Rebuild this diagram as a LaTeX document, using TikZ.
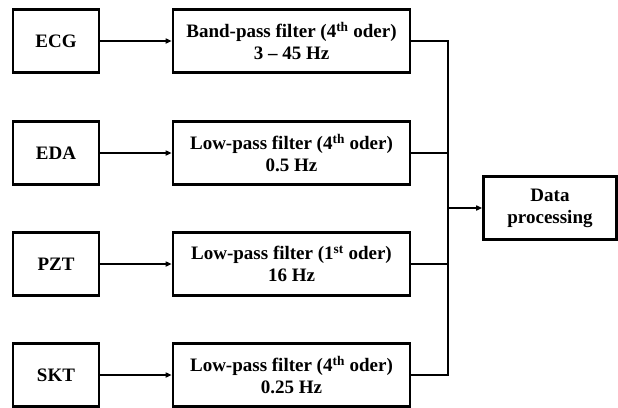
\documentclass[tikz,border=0pt]{standalone}
\usepackage{fontspec}
\setmainfont{Liberation Serif}
\usetikzlibrary{arrows.meta}
\begin{document}
\begin{tikzpicture}[x=1pt,y=-1pt,
  blk/.style={draw, line width=2.6pt, inner sep=0pt, font=\bfseries\fontsize{19}{22}\selectfont, align=center},
  src/.style={blk, minimum width=86pt, minimum height=63pt},
  flt/.style={blk, minimum width=237pt, minimum height=63pt},
  conn/.style={line width=1.6pt},
  arr/.style={conn, -{Triangle[length=6pt,width=5pt]}}]
\useasboundingbox (0,0) rectangle (618,407);
\foreach \n/\t/\f/\y in {a/ECG/{Band-pass filter (4\textsuperscript{th} oder)\\3 -- 45 Hz}/41,
  b/EDA/{Low-pass filter (4\textsuperscript{th} oder)\\0.5 Hz}/153,
  c/PZT/{Low-pass filter (1\textsuperscript{st} oder)\\16 Hz}/264,
  d/SKT/{Low-pass filter (4\textsuperscript{th} oder)\\0.25 Hz}/375}{
  \node[src] (s\n) at (56,\y) {\t};
  \node[flt] (f\n) at (291.5,\y) {\f};
  \draw[arr] (s\n) -- (f\n);
}
\node[blk, minimum width=133pt, minimum height=63pt] (dp) at (550,208) {Data\\processing};
\coordinate (ta) at (448,41);
\coordinate (td) at (448,375);
\coordinate (j) at (448,208);
\draw[conn] (fa.east) -- (ta) -- (td) -- (fd.east);
\draw[conn] (fb.east) -- (fb.east -| j);
\draw[conn] (fc.east) -- (fc.east -| j);
\draw[arr] (j) -- (dp.west);
\end{tikzpicture}
\end{document}
